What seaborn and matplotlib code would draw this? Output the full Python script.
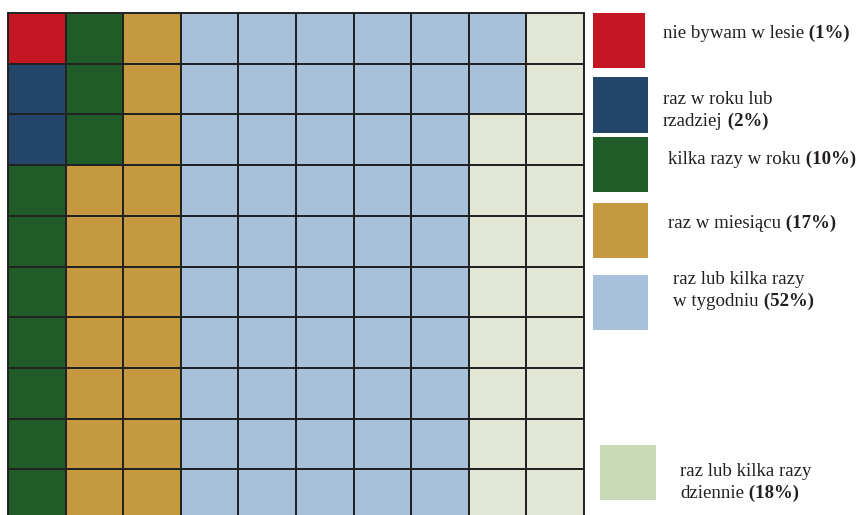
import numpy as np
import matplotlib
matplotlib.use("Agg")
import matplotlib.pyplot as plt
from matplotlib.colors import ListedColormap
from matplotlib.patches import Rectangle
from matplotlib.text import Annotation
import seaborn as sns

# ---- data ----
labels_plain = ["nie bywam w lesie", "raz w roku lub\nrzadziej", "kilka razy w roku",
                "raz w miesiącu", "raz lub kilka razy\nw tygodniu", "raz lub kilka razy\ndziennie"]
percents = [1, 2, 10, 17, 52, 18]
cell_colors = ["#c41623", "#25466b", "#1f5c28", "#c4993f", "#a7c1db", "#e1e6d5"]
legend_colors = ["#c41623", "#25466b", "#1f5c28", "#c4993f", "#a7c1db", "#c8dab5"]
n_rows, n_cols = 10, 10

# build waffle grid: column-major, top to bottom
codes = np.repeat(np.arange(len(percents)), percents)
grid = codes.reshape(n_cols, n_rows).T

W, H = 863, 515
fig = plt.figure(figsize=(W / 100, H / 100), dpi=100)
sns.set_style("white")
plt.rcParams["font.family"] = ["Liberation Serif", "DejaVu Serif"]

ax = fig.add_axes([8 / W, -5 / H, 576 / W, 507 / H])
sns.heatmap(grid, cmap=ListedColormap(cell_colors), vmin=-0.5, vmax=len(percents) - 0.5,
            linewidths=1.2, linecolor="#222222", cbar=False, ax=ax, square=False)
ax.set_xticks([]); ax.set_yticks([])
ax.set_xlabel(""); ax.set_ylabel("")
for s in ax.spines.values():
    s.set_visible(True); s.set_color("#222222"); s.set_linewidth(1.4)

# legend (pixel layout)
boxes = [(593, 13, 52, 55), (593, 77, 55, 56), (593, 137, 55, 55),
         (593, 203, 55, 55), (593, 275, 55, 55), (600, 445, 56, 55)]
text_pos = [(663, 32), (663, 109), (668, 157), (668, 222), (673, 288), (680, 480)]

for (x, y, w, h), col in zip(boxes, legend_colors):
    fig.add_artist(Rectangle((x / W, 1 - (y + h) / H), w / W, h / H,
                             transform=fig.transFigure, facecolor=col, edgecolor="none"))

fs = 13.6
lh = 22
for (tx, ty), lab, p in zip(text_pos, labels_plain, percents):
    lines = lab.split("\n")
    y0 = ty - (len(lines) - 1) * lh / 2
    for i, line in enumerate(lines):
        yy = y0 + i * lh
        t = fig.text(tx / W, 1 - yy / H, line, fontsize=fs, color="#231f20",
                     ha="left", va="center_baseline")
        if i == len(lines) - 1:
            ann = Annotation(f" ({p}%)", xy=(1, 0), xycoords=t,
                             ha="left", va="bottom", fontsize=fs,
                             fontweight="bold", color="#231f20")
            fig.add_artist(ann)

fig.savefig("out.png", dpi=100)
